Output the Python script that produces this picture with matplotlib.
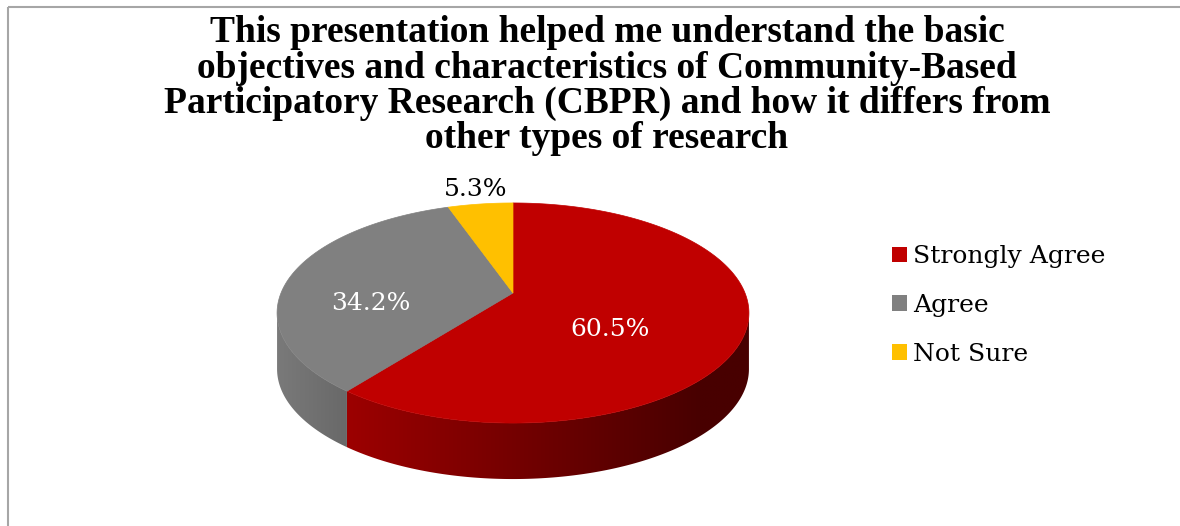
import numpy as np
import matplotlib
matplotlib.use("Agg")
import matplotlib.pyplot as plt
from matplotlib.patches import Polygon, Patch, Rectangle
from matplotlib.colors import to_rgb

# ---------------- data ----------------
title_lines = [
    "This presentation helped me understand the basic",
    "objectives and characteristics of Community-Based",
    "Participatory Research (CBPR) and how it differs from",
    "other types of research",
]
categories = ["Strongly Agree", "Agree", "Not Sure"]
values = [60.5, 34.2, 5.3]
value_labels = ["60.5%", "34.2%", "5.3%"]
colors = ["#C00000", "#808080", "#FFC000"]
label_colors = ["white", "white", "black"]

# ---------------- layout ----------------
W, H = 1180, 526
fig = plt.figure(figsize=(W / 100, H / 100), dpi=100)
ax = fig.add_axes([0, 0, 1, 1])
ax.set_xlim(0, W)
ax.set_ylim(H, 0)
ax.axis("off")

# frame (only top and left visible)
ax.add_patch(Rectangle((8, 6.5), W + 50, H + 50, fill=False,
                       edgecolor="#a6a6a6", linewidth=1.5, zorder=1))

# perspective pie geometry (pixel units)
CX, CY = 513, 293          # projected centre of the pie
A, B, K = 232, 106.4, 0.1818
DEPTH = 56


def proj(t_deg, r=1.0):
    t = np.radians(t_deg)
    u = r * np.cos(t)
    v = r * np.sin(t)
    w = 1 + K * v
    return CX + A * u / w, CY - B * v / w


def shade(x):
    return np.interp(x, [278, 350, 700, 750], [0.95, 0.81, 0.375, 0.375])


fracs = np.array(values) / np.sum(values)
bounds = 90 - np.concatenate([[0], np.cumsum(fracs) * 360])

t_right = -np.degrees(np.arcsin(K))
t_left = -180 - t_right

# side walls (gradient images clipped to the wall outline)
for i, col in enumerate(colors):
    t0, t1 = bounds[i + 1], bounds[i]   # t0 < t1
    lo, hi = max(t0, t_left), min(t1, t_right)
    if hi <= lo:
        continue
    ts = np.linspace(lo, hi, 300)
    xs, ys = proj(ts)
    outline = list(zip(xs, ys)) + list(zip(xs[::-1], ys[::-1] + DEPTH))
    wall = Polygon(outline, closed=True, facecolor="none", edgecolor="none")
    ax.add_patch(wall)
    x0, x1 = xs.min() - 1, xs.max() + 1
    y0, y1 = ys.min() - 1, ys.max() + DEPTH + 1
    gx = np.linspace(x0, x1, 400)
    base = np.array(to_rgb(col))
    img = np.clip(base[None, None, :] * shade(gx)[None, :, None], 0, 1)
    img = np.repeat(img, 2, axis=0)
    im = ax.imshow(img, extent=(x0, x1, y1, y0), aspect="auto",
                   interpolation="bilinear", zorder=2)
    im.set_clip_path(wall)

ax.set_xlim(0, W)
ax.set_ylim(H, 0)

# top face
for i, col in enumerate(colors):
    ts = np.linspace(bounds[i], bounds[i + 1], 300)
    xs, ys = proj(ts)
    pts = [(CX, CY)] + list(zip(xs, ys))
    ax.add_patch(Polygon(pts, closed=True, facecolor=col, edgecolor=col,
                         linewidth=0.5, zorder=3))

# data labels
label_pos = [(610, 336), (371, 310), (476, 196)]
for txt, (x, y), c in zip(value_labels, label_pos, label_colors):
    ax.text(x, y, txt, ha="center", va="baseline", color=c,
            fontsize=18, family="DejaVu Serif", zorder=5)

# title
baselines = [42, 78, 113, 148]
for line, yb in zip(title_lines, baselines):
    ax.text(607, yb, line, ha="center", va="baseline", fontsize=27,
            family="Liberation Serif", weight="bold", color="black")

# legend
handles = [Patch(facecolor=c, edgecolor="none") for c in colors]
leg = ax.legend(handles, categories, loc="center left",
                bbox_to_anchor=(892, 305.5), bbox_transform=ax.transData,
                frameon=False, borderpad=0, borderaxespad=0,
                handlelength=0.6, handleheight=0.6, handletextpad=0.25,
                labelspacing=1.03,
                prop={"family": "DejaVu Serif", "size": 18})

fig.savefig("out.png", dpi=100)
